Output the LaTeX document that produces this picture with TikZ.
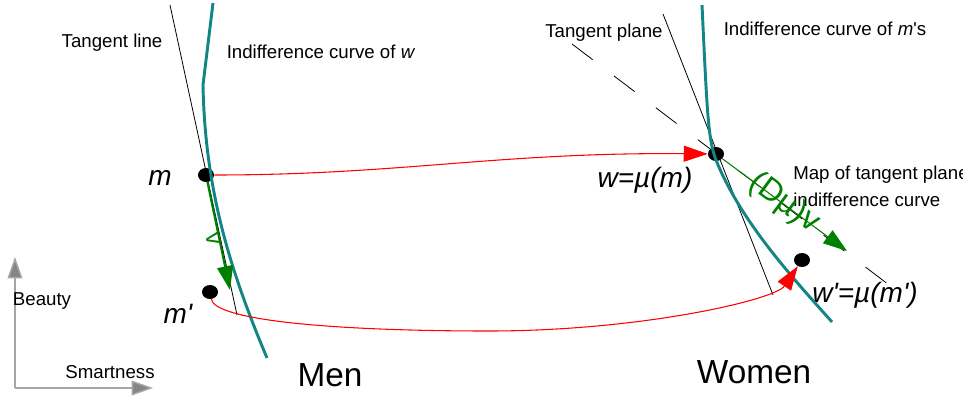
\documentclass[tikz,border=0pt]{standalone}
\usepackage{fontspec}
\setmainfont{Liberation Sans}
\usetikzlibrary{arrows.meta, positioning, shapes.geometric}
\definecolor{cteal}{HTML}{138585}
\definecolor{cred}{HTML}{FF0000}
\definecolor{cgreen}{HTML}{008000}
\definecolor{caxis}{HTML}{A6A6A6}
\definecolor{caxtip}{HTML}{858585}
\newcommand{\qt}{\textquotesingle}

\begin{document}
\begin{tikzpicture}[x=0.75pt, y=-0.75pt,
    txt/.style={font=\fontsize{14}{15}\selectfont, inner sep=0pt, anchor=base},
    lbl/.style={font=\fontsize{21}{24}\selectfont\itshape, inner sep=0pt, anchor=base},
    big/.style={font=\fontsize{25}{28}\selectfont, inner sep=0pt, anchor=base},
    dot/.style={ellipse, fill=black, minimum width=12pt, minimum height=10.5pt, inner sep=0pt},
    indiff/.style={cteal, line width=2.2pt},
    tang/.style={black, line width=0.6pt},
    match/.style={cred, line width=0.8pt, -{Triangle[length=18pt, width=12pt]}},
    vec/.style={cgreen, -{Triangle[length=18pt, width=12pt]}},
    axis/.style={caxis, line width=1.1pt, -{Triangle[length=16pt, width=11pt, fill=caxtip]}}]
  \useasboundingbox (0,0) rectangle (963,396);

  % axes
  \coordinate (orig) at (15,388);
  \coordinate (ytip) at (15,257);
  \coordinate (xtip) at (153,388);
  \draw[axis] (orig) -- (ytip);
  \draw[axis] (orig) -- (xtip);
  \node[txt] (beauty) at (42,305) {Beauty};
  \node[txt] (smart) at (110,378) {Smartness};

  % men's side
  \node[dot] (m) at (206,175) {};
  \node[dot] (mp) at (210,292) {};
  \node[lbl] (mlab) at (160,185) {m};
  \node[lbl] (mplab) at (178,323) {m\qt};
  \node[big] (men) at (330,386) {Men};
  \node[txt] (tlline) at (112,47) {Tangent line};
  \node[txt] (icw) at (321,58) {Indifference curve of \textit{w}};

  \coordinate (tl1) at (170,5);
  \coordinate (tl2) at (237,315);
  \draw[tang] (tl1) -- (tl2);
  \coordinate (icl1) at (213,3);
  \coordinate (icl2) at (203,85);
  \coordinate (icl3) at (267,358);
  \draw[indiff] (icl1) -- (icl2) .. controls (205,190) and (230,270) .. (icl3);

  \coordinate (vtip) at (230,290);
  \draw[vec, line width=1.6pt] (m) -- node[pos=0.52, sloped, below=-1pt, inner sep=0pt,
      font=\fontsize{18}{20}\selectfont] {v} (vtip);

  % women's side
  \node[dot] (w) at (716,154) {};
  \node[dot] (wp) at (802,260) {};
  \node[lbl] (wlab) at (645,187) {w=\textmu(m)};
  \node[lbl] (wplab) at (865,302) {w\qt=\textmu(m\qt)};
  \node[big] (women) at (754,383) {Women};
  \node[txt] (tplane) at (604,37) {Tangent plane};
  \node[txt] (icm) at (825,35) {Indifference curve of \textit{m}\qt s};
  \node[font=\fontsize{14}{20}\selectfont, inner sep=0pt, align=left, anchor=north west]
    (maptxt) at (793,166) {Map of tangent plane\\indifference curve};

  \coordinate (tr1) at (663,14);
  \coordinate (tr2) at (773,295);
  \draw[tang] (tr1) -- (tr2);
  \coordinate (tp1) at (572,44);
  \coordinate (tp2) at (893,288);
  \draw[tang, dash pattern=on 19.5pt off 20pt] (tp1) -- (tp2);
  \coordinate (icr1) at (702,5);
  \coordinate (icr2) at (716,160);
  \coordinate (icr3) at (832,322);
  \draw[indiff] (icr1) .. controls (707,110) and (708,140) .. (icr2)
    .. controls (740,220) and (790,275) .. (icr3);

  \coordinate (dvtip) at (847,251);
  \draw[vec, line width=0.8pt] (w) -- node[pos=0.49, sloped, inner sep=0pt, yshift=1pt,
      font=\fontsize{24}{27}\selectfont] {(D\textmu)v} (dvtip);

  % matching arrows
  \draw[match] (m) .. controls (400,175) and (500,152) .. (w);
  \coordinate (low) at (489,331);
  \draw[match] (mp) .. controls (215,320) and (330,331) .. (low)
    .. controls (640,331) and (775,300) .. (wp);
\end{tikzpicture}
\end{document}
